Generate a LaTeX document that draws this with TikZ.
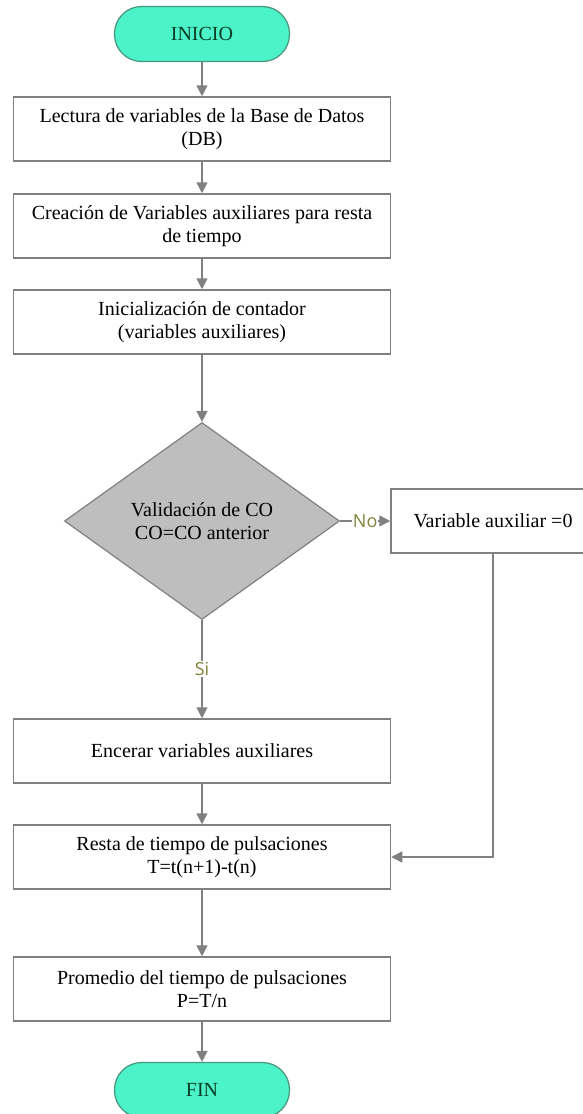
\documentclass[tikz,border=0pt]{standalone}
\usepackage{fontspec}
\setmainfont{Liberation Serif}
\newfontfamily\labelfont{Open Sans}
\usetikzlibrary{arrows.meta,positioning,shapes.geometric}
\definecolor{TermFill}{RGB}{76,243,200}
\definecolor{TermLine}{RGB}{70,150,125}
\definecolor{TermText}{RGB}{10,60,40}
\definecolor{DecFill}{RGB}{190,190,190}
\definecolor{LineGray}{RGB}{128,128,128}
\definecolor{LabelOlive}{RGB}{130,130,60}
\begin{document}
\begin{tikzpicture}[x=1pt,y=-1pt,
  terminal/.style={draw=TermLine,fill=TermFill,rounded corners=27pt,line width=1.2pt,
  minimum width=175pt,minimum height=55pt,text=TermText,font=\fontsize{20}{23}\selectfont},
  stage/.style={draw=LineGray,fill=white,line width=1.5pt,minimum width=377pt,
  minimum height=64pt,align=center,font=\fontsize{20}{23}\selectfont},
  decision/.style={diamond,draw=LineGray,fill=DecFill,line width=1.2pt,inner sep=0pt,
  minimum width=275pt,minimum height=197pt,align=center,font=\fontsize{20}{23}\selectfont},
  answer/.style={fill=white,inner sep=1pt,text=LabelOlive,font=\labelfont\fontsize{18}{21}\selectfont},
  flow/.style={-{Triangle[length=11pt,width=11pt]},line width=1.5pt,draw=LineGray}]
\useasboundingbox (0,0) rectangle (583,1114);
\clip (0,0) rectangle (583,1114);
\node[terminal] (inicio) at (202,34) {INICIO};
\node[stage] (lectura) at (202,129) {Lectura de variables de la Base de Datos\\(DB)};
\node[stage] (creacion) at (202,226) {Creación de Variables auxiliares para resta\\de tiempo};
\node[stage] (inicial) at (202,322) {Inicialización de contador\\(variables auxiliares)};
\node[decision] (valida) at (202,521) {Validación de CO\\CO=CO anterior};
\node[stage,minimum width=204pt] (auxcero) at (493,521) {Variable auxiliar =0};
\node[stage] (encerar) at (202,751) {Encerar variables auxiliares};
\node[stage] (resta) at (202,857) {Resta de tiempo de pulsaciones\\T=t(n+1)-t(n)};
\node[stage] (promedio) at (202,989) {Promedio del tiempo de pulsaciones\\P=T/n};
\node[terminal] (fin) at (202,1090) {FIN};
\draw[flow] (inicio) -- (lectura);
\draw[flow] (lectura) -- (creacion);
\draw[flow] (creacion) -- (inicial);
\draw[flow] (inicial) -- (valida);
\draw[flow] (valida) -- node[answer] {No} (auxcero);
\draw[flow] (valida) -- node[answer] {Si} (encerar);
\draw[flow] (encerar) -- (resta);
\draw[flow] (auxcero.south) |- (resta.east);
\draw[flow] (resta) -- (promedio);
\draw[flow] (promedio) -- (fin);
\end{tikzpicture}
\end{document}
